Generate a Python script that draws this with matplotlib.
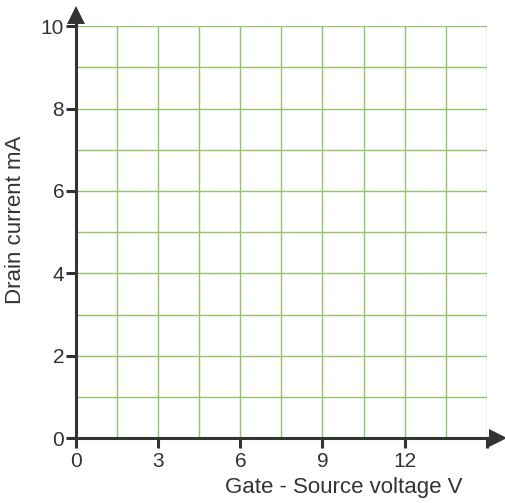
import numpy as np
import matplotlib.pyplot as plt

# ========= axis setup =========
x_ticks = [0, 3, 6, 9, 12, 15]
x_tick_labels = ["0", "3", "6", "9", "12", ""]
y_ticks = [0, 2, 4, 6, 8, 10]
y_tick_labels = ["0", "2", "4", "6", "8", "10"]
x_grid = [1.5, 3, 4.5, 6, 7.5, 9, 10.5, 12, 13.5, 15]
y_grid = [1, 2, 3, 4, 5, 6, 7, 8, 9, 10]
x_label = "Gate - Source voltage V"
y_label = "Drain current mA"

plt.rcParams.update({
    "font.family": "Liberation Sans",
    "font.size": 15,
})

fig = plt.figure(figsize=(5.05, 5.03), dpi=100)
ax = fig.add_axes([0.1505, 0.129, 0.8135, 0.819])

axis_color = "#333333"
grid_color = "#93c46c"

ax.set_xlim(0, 15)
ax.set_ylim(0, 10)

for gx in x_grid:
    ax.axvline(gx, color=grid_color, linewidth=1.0, zorder=1)
for gy in y_grid:
    ax.axhline(gy, color=grid_color, linewidth=1.0, zorder=1)

for side in ["top", "right"]:
    ax.spines[side].set_visible(False)
for side in ["left", "bottom"]:
    ax.spines[side].set_color(axis_color)
    ax.spines[side].set_linewidth(2.2)
    ax.spines[side].set_zorder(3)

ax.set_xticks(x_ticks)
ax.set_xticklabels(x_tick_labels)
ax.set_yticks(y_ticks)
ax.set_yticklabels(y_tick_labels)
ax.tick_params(axis="both", direction="out", length=7, width=2.2,
               color=axis_color, labelcolor=axis_color, labelsize=15)
ax.tick_params(axis="x", pad=3)
ax.tick_params(axis="y", pad=1.5)

# axis lines run past the plot area into arrow heads
ax.plot([0, 0], [1.0, 1.02], color=axis_color, linewidth=2.2,
        transform=ax.transAxes, clip_on=False, zorder=4)
ax.plot([1.0, 1.02], [0, 0], color=axis_color, linewidth=2.2,
        transform=ax.transAxes, clip_on=False, zorder=4)
ax.plot([0], [1.028], marker="^", markersize=13, color=axis_color,
        markeredgewidth=0, transform=ax.transAxes, clip_on=False, zorder=5)
ax.plot([1.027], [0], marker=">", markersize=13, color=axis_color,
        markeredgewidth=0, transform=ax.transAxes, clip_on=False, zorder=5)

ax.set_xlabel(x_label, color=axis_color, fontsize=16)
ax.xaxis.set_label_coords(0.652, -0.095)
ax.set_ylabel(y_label, color=axis_color, fontsize=16)
ax.yaxis.set_label_coords(-0.122, 0.53)

plt.savefig("out.png", dpi=100)
